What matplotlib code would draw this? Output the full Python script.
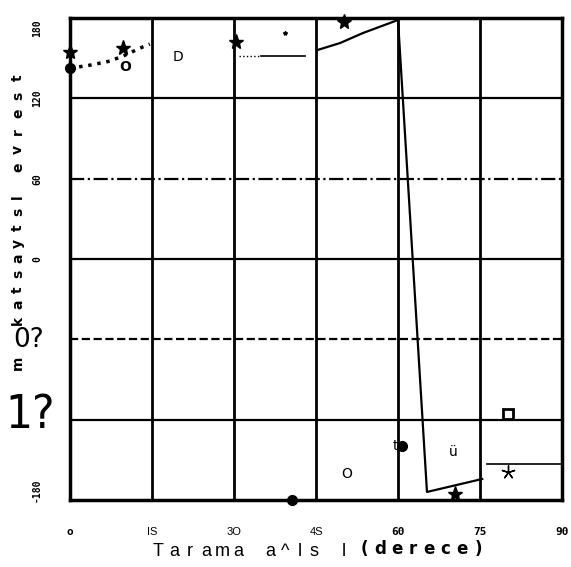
import matplotlib
matplotlib.use('Agg')
import matplotlib.pyplot as plt

W, H = 571, 567

# grid positions
xgrid = [15, 30, 45, 60, 75]
hgrid = [120, 60, 0, -60, -120]
hstyle = ['-', '-.', '-', '--', '-']

xticks = [0, 15, 30, 45, 60, 75, 90]
xticklabels = ['o', 'IS', '3O', '4S', '60', '75', '90']
xtick_bold = [True, False, False, False, True, True, True]
yticks = [180, 120, 60, 0, -180]
yticklabels = ['180', '120', '60', '0', '-180']

# dotted curve near the start
dot_x = [0, 3.7, 7.3, 10.1, 12.8, 14.6]
dot_y = [142.5, 144.8, 147.8, 152.3, 157.5, 160.5]

# short level segment
seg_x = [35, 43]
seg_y = [151.5, 151.5]
segdot_x = [31, 35]
segdot_y = [151.5, 151.5]

# main broken line
main_x = [45.2, 49.4, 53.6, 60.0, 65.3, 75.4]
main_y = [156, 161.3, 168.8, 178.5, -174, -164.3]

# right level segment
right_x = [76.3, 90]
right_y = [-153, -153]

star_x = [0, 9.7, 30.4, 50.1, 70.4]
star_y = [154.5, 157.5, 162, 177, -175.5]
dot_mk_x = [0, 40.6, 60.7]
dot_mk_y = [142.5, -180, -139.5]
sq_x = [80.1]
sq_y = [-116]

labels_txt = ['D', 'O', 'ü', 't']
labels_x = [19.8, 50.7, 70.1, 59.6]
labels_y = [150.8, -160.5, -144, -139.5]


def spaced(fig, s, p0, p1, q, vertical=False, **kw):
    # put the characters of s one by one between p0 and p1 (pixels)
    n = len(s)
    for i, c in enumerate(s):
        if c == ' ':
            continue
        p = p0 + (p1 - p0) * i / max(n - 1, 1)
        if vertical:
            fig.text(q / W, 1 - p / H, c, rotation=90, ha='center', va='center', **kw)
        else:
            fig.text(p / W, 1 - q / H, c, ha='center', va='center', **kw)


fig = plt.figure(figsize=(5.71, 5.67), dpi=100)
ax = fig.add_axes([70/W, 1-500/H, 492/W, 482/H])
ax.set_xlim(0, 90)
ax.set_ylim(-180, 180)

for xv in xgrid:
    ax.axvline(xv, color='black', lw=2)
for yv, ls in zip(hgrid, hstyle):
    ax.axhline(yv, color='black', lw=1.6, ls=ls)

ax.plot(dot_x, dot_y, color='black', lw=2.5, ls=':')
ax.plot(segdot_x, segdot_y, color='black', lw=1, ls=':')
ax.plot(seg_x, seg_y, color='black', lw=1.2)
ax.plot(main_x, main_y, color='black', lw=1.6)
ax.plot(right_x, right_y, color='black', lw=1.2)

ax.plot(star_x, star_y, ls='none', marker='*', color='black', ms=11, clip_on=False)
ax.plot([39.3], [169], ls='none', marker='*', color='black', ms=3)
ax.plot([80.1], [-159], ls='none', marker=(5, 2, 0), color='black', ms=10, mew=1)
ax.plot(dot_mk_x, dot_mk_y, ls='none', marker='o', color='black', ms=7, clip_on=False)
ax.plot(sq_x, sq_y, ls='none', marker='s', mfc='white', mec='black', mew=2, ms=7)
ax.text(10.1, 143.3, 'O', fontsize=10, fontweight='bold', ha='center', va='center')

for t, xx, yy in zip(labels_txt, labels_x, labels_y):
    ax.text(xx, yy, t, fontsize=10, ha='center', va='center')

for s in ax.spines.values():
    s.set_linewidth(2.5)
ax.set_xticks([])
ax.set_yticks([])

for xv, lab, b in zip(xticks, xticklabels, xtick_bold):
    px = ax.transData.transform((xv, 0))[0] / W
    if b:
        fig.text(px, 1-532/H, lab, fontsize=8, fontweight='bold', family='DejaVu Sans Mono',
                 ha='center', va='center')
    else:
        fig.text(px, 1-532/H, lab, fontsize=8, family='Liberation Sans', ha='center', va='center')

for yv, lab in zip(yticks, yticklabels):
    py = ax.transData.transform((0, yv))[1] / H
    if yv == 180:
        py = 1-28/H
    if yv == -180:
        py = 1-490/H
    fig.text(37/W, py, lab, fontsize=7, fontweight='bold', family='DejaVu Sans Mono',
             rotation=90, ha='center', va='center')

# x axis title
spaced(fig, 'Tarama', 158, 238, 551, fontsize=13, family='Liberation Sans')
spaced(fig, 'a^ls l', 270, 344, 551, fontsize=13, family='Liberation Sans')
spaced(fig, '(derece)', 364, 478, 549, fontsize=12, fontweight='bold', family='DejaVu Sans')

# y axis title
spaced(fig, 'm', 363, 363, 18, vertical=True, fontsize=10, fontweight='bold')
spaced(fig, 'katsaytsl', 320, 197, 18, vertical=True, fontsize=10, fontweight='bold')
spaced(fig, 'evrest', 167, 78, 18, vertical=True, fontsize=10, fontweight='bold')
fig.text(29/W, 1-340/H, '0?', fontsize=19, ha='center', va='center')
fig.text(30/W, 1-415/H, '1?', fontsize=34, ha='center', va='center', fontstretch='condensed')

fig.savefig('out.png', dpi=100, facecolor='white')
